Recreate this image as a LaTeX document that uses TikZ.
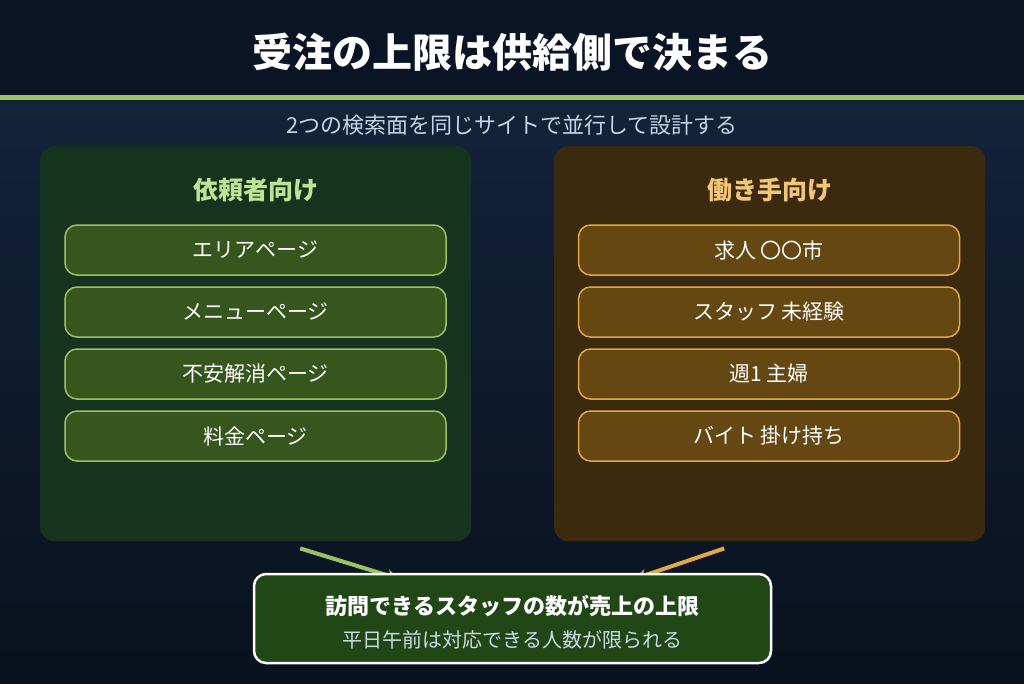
\documentclass[tikz,border=0pt]{standalone}
\usepackage{fontspec}
\setmainfont{Noto Sans CJK JP}
\usetikzlibrary{arrows.meta, positioning, backgrounds, calc}

\definecolor{bgtop}{HTML}{0A1424}
\definecolor{bgmid}{HTML}{13233A}
\definecolor{bgbot}{HTML}{0A111E}
\definecolor{accent}{HTML}{9AC463}
\definecolor{subtext}{HTML}{C5D5E5}
\definecolor{reqfill}{HTML}{15331E}
\definecolor{reqitemfill}{HTML}{36561E}
\definecolor{reqline}{HTML}{9AC463}
\definecolor{reqhead}{HTML}{BDE394}
\definecolor{wrkfill}{HTML}{3B2A0E}
\definecolor{wrkitemfill}{HTML}{654712}
\definecolor{wrkline}{HTML}{E2A846}
\definecolor{wrkhead}{HTML}{F3C677}
\definecolor{limitfill}{HTML}{214716}
\definecolor{limitsub}{HTML}{C8DDE6}

\tikzset{
    panel/.style={rectangle, rounded corners=14pt, minimum width=431pt,
        minimum height=395pt, anchor=north west},
    head/.style={font=\fontsize{25}{30}\selectfont\bfseries},
    item/.style={rectangle, rounded corners=12pt, line width=1.5pt,
        minimum width=381pt, minimum height=50pt, text=white,
        font=\fontsize{21}{25}\selectfont},
    reqitem/.style={item, draw=reqline, fill=reqitemfill},
    wrkitem/.style={item, draw=wrkline, fill=wrkitemfill},
    flow/.style={line width=4pt, -{Stealth[length=12pt, width=12pt]}}
}

\begin{document}
\begin{tikzpicture}[x=1pt, y=-1pt]
    \useasboundingbox (0,0) rectangle (1024,683);

    % title
    \node[font=\fontsize{40}{48}\selectfont\bfseries, text=white] (title) at (512,52) {受注の上限は供給側で決まる};
    \node[font=\fontsize{22}{26}\selectfont, text=subtext] (subtitle) at (512,125) {2つの検索面を同じサイトで並行して設計する};

    % client side
    \node[panel, fill=reqfill] (reqpanel) at (40,146) {};
    \node[head, text=reqhead] (reqtitle) at (255.5,190) {依頼者向け};
    \node[reqitem] (req1) at (255.5,250) {エリアページ};
    \node[reqitem, below=10.5pt of req1] (req2) {メニューページ};
    \node[reqitem, below=10.5pt of req2] (req3) {不安解消ページ};
    \node[reqitem, below=10.5pt of req3] (req4) {料金ページ};

    % worker side
    \node[panel, fill=wrkfill] (wrkpanel) at (554,146) {};
    \node[head, text=wrkhead] (wrktitle) at (769.5,190) {働き手向け};
    \node[wrkitem] (wrk1) at (769,250) {求人 〇〇市};
    \node[wrkitem, below=10.5pt of wrk1] (wrk2) {スタッフ 未経験};
    \node[wrkitem, below=10.5pt of wrk2] (wrk3) {週1 主婦};
    \node[wrkitem, below=10.5pt of wrk3] (wrk4) {バイト 掛け持ち};

    % supply limit
    \node[rectangle, rounded corners=12pt, draw=white, line width=2.5pt, fill=limitfill,
        minimum width=517pt, minimum height=89pt] (limit) at (512.5,618.5) {};
    \node[font=\fontsize{22}{26}\selectfont\bfseries, text=white] (limitmain) at (512.5,606) {訪問できるスタッフの数が売上の上限};
    \node[font=\fontsize{20}{24}\selectfont, text=limitsub] (limitnote) at (512.5,640) {平日午前は対応できる人数が限られる};

    \coordinate (reqtail) at ($(reqpanel.south)+(44.5,7)$);
    \coordinate (reqhead) at ($(limit.north west)+(146,6)$);
    \coordinate (wrktail) at ($(wrkpanel.south)+(-45.5,7)$);
    \coordinate (wrkhead) at ($(limit.north west)+(382,6)$);

    \begin{scope}[on background layer]
        \fill[bgtop] (0,0) rectangle (1024,95);
        \shade[top color=bgmid, bottom color=bgbot] (0,100) rectangle (1024,683);
        \fill[accent] (0,95) rectangle (1024,100);
        \draw[flow, reqline] (reqtail) -- (reqhead);
        \draw[flow, wrkline] (wrktail) -- (wrkhead);
    \end{scope}
\end{tikzpicture}
\end{document}
